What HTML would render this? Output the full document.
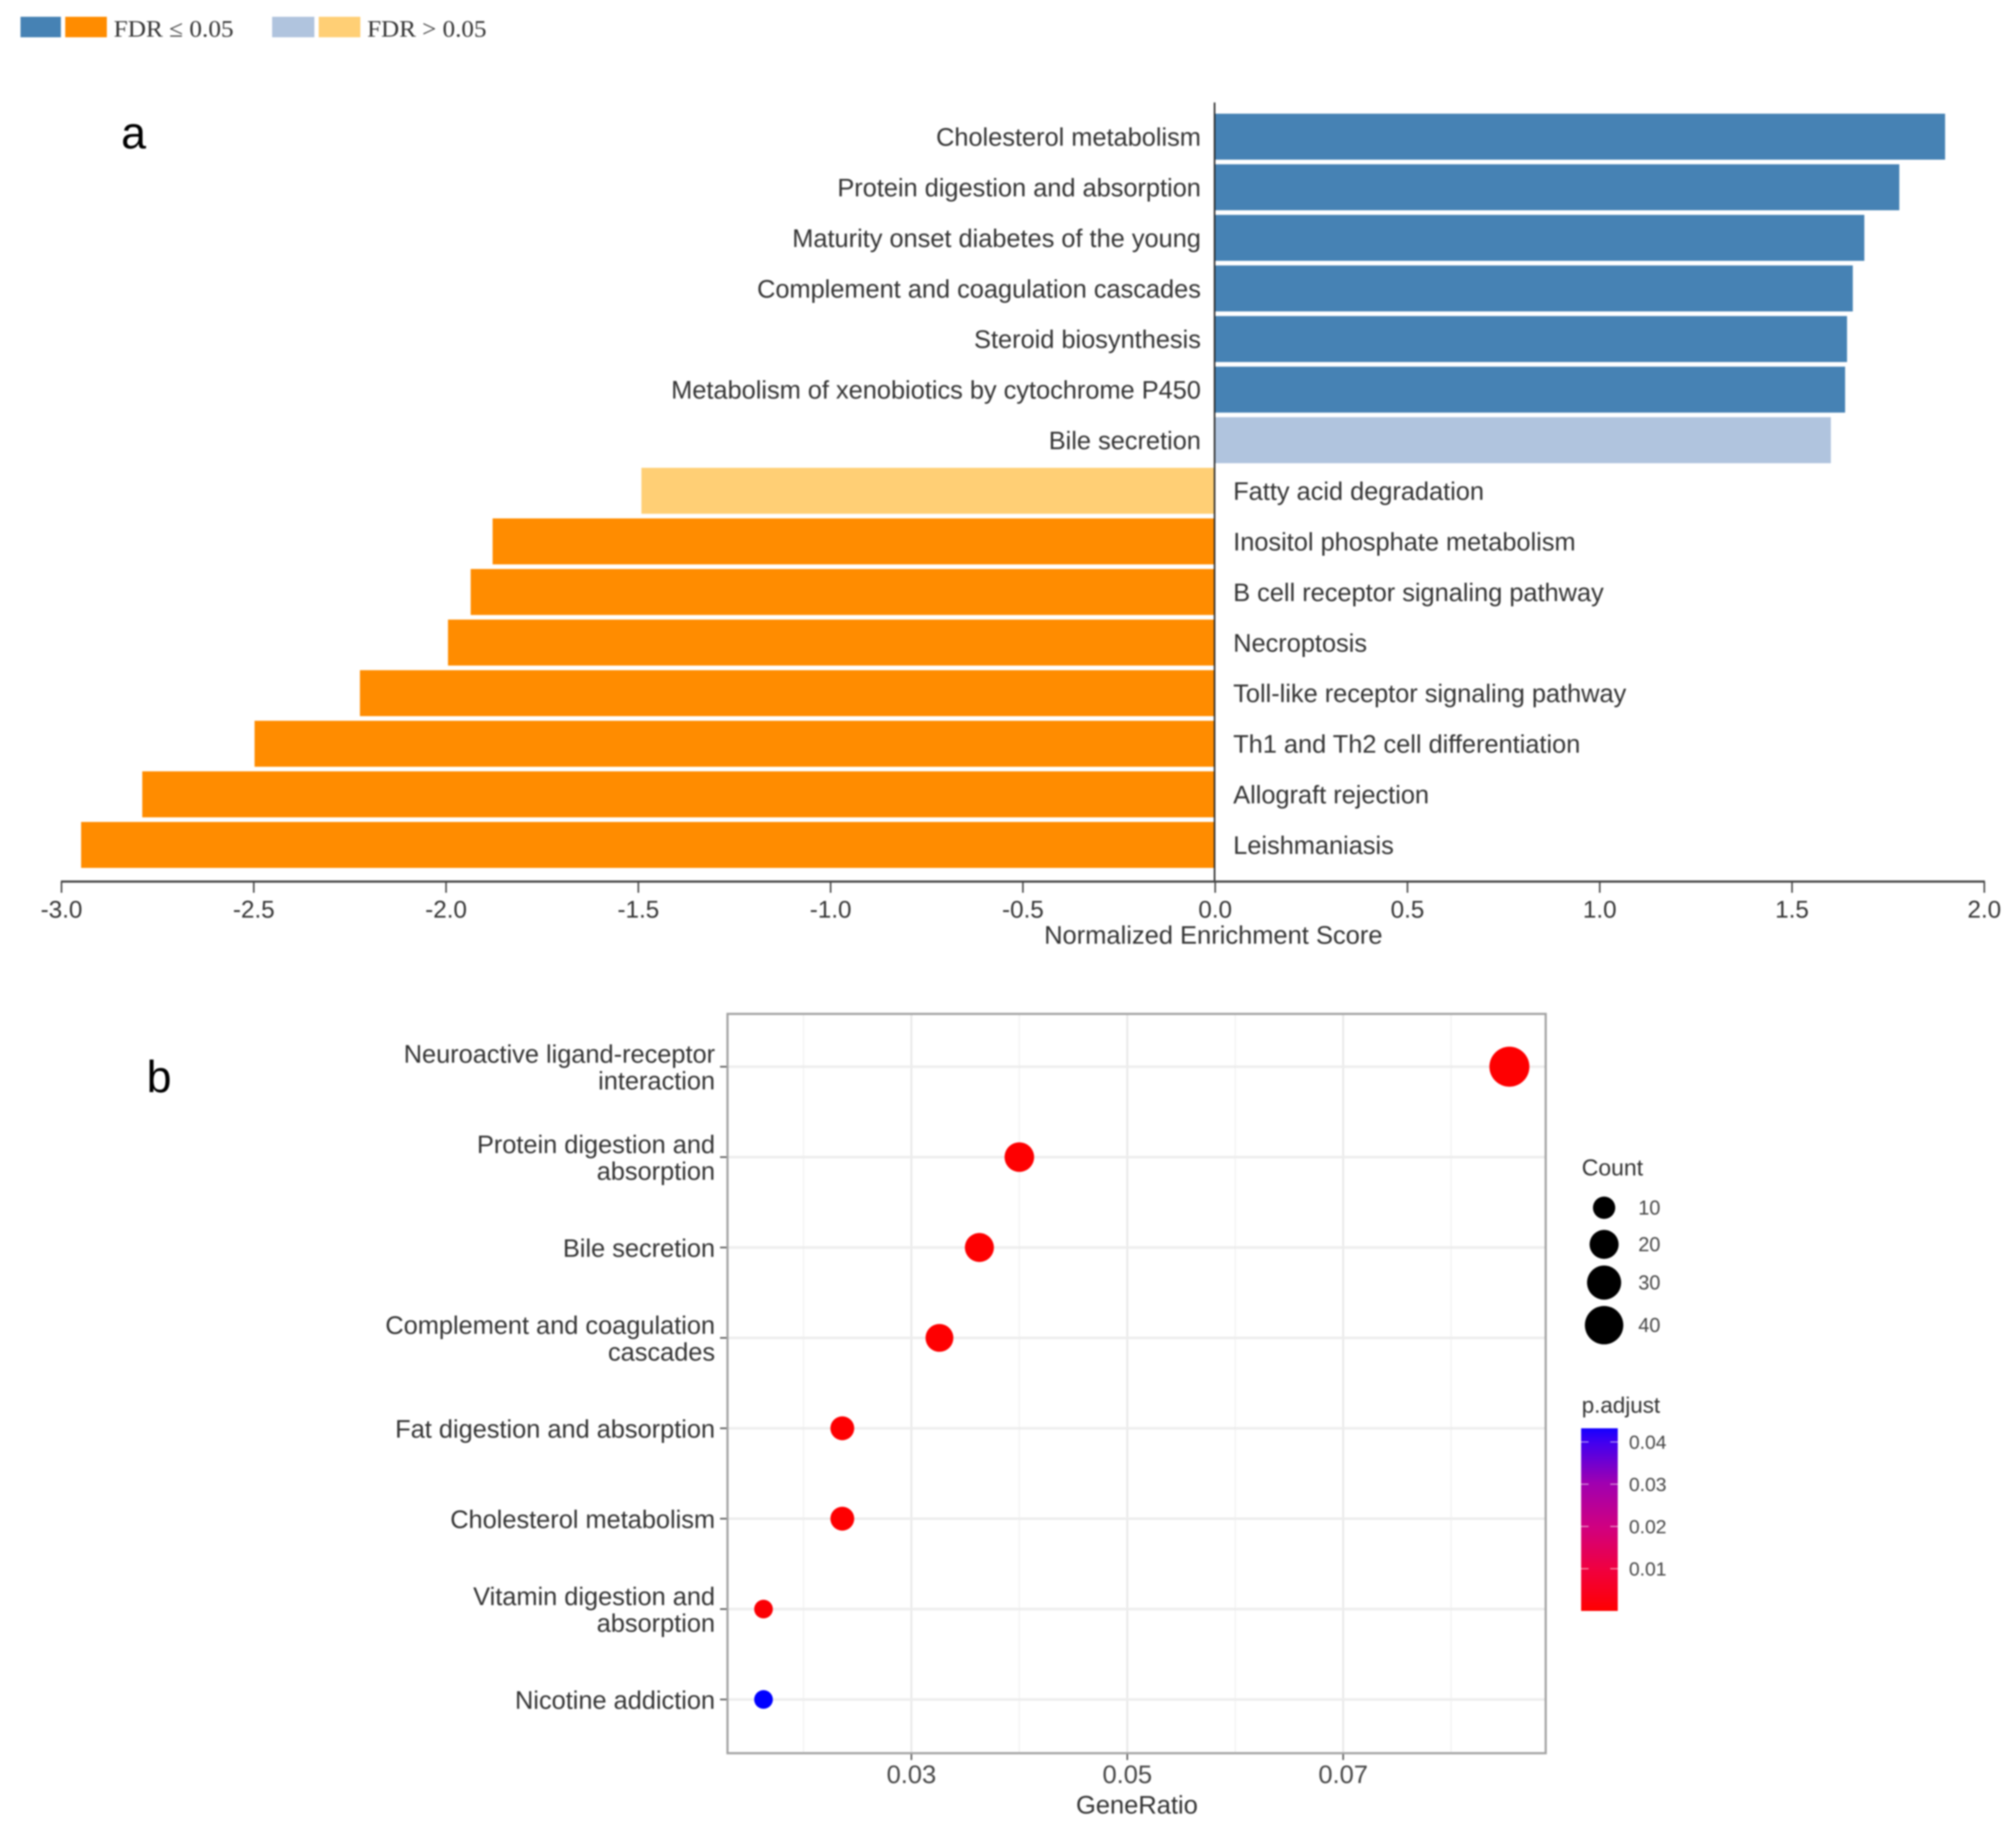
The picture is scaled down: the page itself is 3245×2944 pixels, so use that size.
<!DOCTYPE html>
<html lang="en">
<head>
<meta charset="utf-8">
<title>Enrichment charts</title>
<style>
  html, body { margin: 0; padding: 0; background: #fff; }
  svg { display: block; filter: blur(1.2px); }
  text { font-family: "Liberation Sans", sans-serif; }
</style>
</head>
<body>
<svg id="chart" xmlns="http://www.w3.org/2000/svg" width="3245" height="2944" viewBox="0 0 3245 2944">
  <defs>
    <linearGradient id="padjust-gradient" x1="0" y1="0" x2="0" y2="1">
      <stop offset="0" stop-color="#1500ff"/>
      <stop offset="0.075" stop-color="#4000f0"/>
      <stop offset="0.30" stop-color="#a000b0"/>
      <stop offset="0.54" stop-color="#d00080"/>
      <stop offset="0.77" stop-color="#f00040"/>
      <stop offset="1" stop-color="#ff0000"/>
    </linearGradient>
  </defs>
  <rect x="0" y="0" width="3245" height="2944" fill="#ffffff"/>

  <g>
    <rect x="33" y="27" width="65" height="33" fill="#4682b4"/>
    <rect x="105" y="27" width="67" height="33" fill="#ff8c00"/>
    <text x="183" y="59" font-size="38" fill="#333" textLength="193" lengthAdjust="spacingAndGlyphs" style="font-family:'Liberation Serif',serif">FDR ≤ 0.05</text>
    <rect x="438" y="27" width="68" height="33" fill="#b0c4de"/>
    <rect x="513" y="27" width="67" height="33" fill="#ffcf75"/>
    <text x="591" y="59" font-size="38" fill="#333" textLength="192" lengthAdjust="spacingAndGlyphs" style="font-family:'Liberation Serif',serif">FDR &gt; 0.05</text>
  </g>

  <text x="195" y="239" font-size="72" fill="#000">a</text>
  <text x="236" y="1758" font-size="72" fill="#000">b</text>

  <g id="panel-a"></g>
  <text x="1953" y="1519" font-size="41" text-anchor="middle" fill="#333">Normalized Enrichment Score</text>

  <g id="panel-b"></g>
  <text x="1830" y="2919" font-size="41" text-anchor="middle" fill="#333">GeneRatio</text>

  <g id="size-legend">
    <text x="2546" y="1892" font-size="37" fill="#333">Count</text>
  </g>
  <g id="color-legend">
    <text x="2546" y="2274" font-size="36" fill="#333">p.adjust</text>
    <rect x="2545" y="2299" width="59" height="294" fill="url(#padjust-gradient)"/>
  </g>
</svg>

<script>
// Panel a: normalized enrichment scores
const enrichmentPathways = [
  "Cholesterol metabolism", "Protein digestion and absorption", "Maturity onset diabetes of the young",
  "Complement and coagulation cascades", "Steroid biosynthesis", "Metabolism of xenobiotics by cytochrome P450",
  "Bile secretion", "Fatty acid degradation", "Inositol phosphate metabolism", "B cell receptor signaling pathway",
  "Necroptosis", "Toll-like receptor signaling pathway", "Th1 and Th2 cell differentiation", "Allograft rejection",
  "Leishmaniasis"
];
const enrichmentScores = [1.898, 1.779, 1.688, 1.658, 1.643, 1.638, 1.601, -1.492, -1.879, -1.936, -1.995, -2.224, -2.498, -2.79, -2.949];
const enrichmentSignificant = [true, true, true, true, true, true, false, false, true, true, true, true, true, true, true];
const enrichmentTicks = [-3.0, -2.5, -2.0, -1.5, -1.0, -0.5, 0.0, 0.5, 1.0, 1.5, 2.0];

// Panel b: GeneRatio dot plot
const dotPathways = [
  ["Neuroactive ligand-receptor", "interaction"], ["Protein digestion and", "absorption"], ["Bile secretion"],
  ["Complement and coagulation", "cascades"], ["Fat digestion and absorption"], ["Cholesterol metabolism"],
  ["Vitamin digestion and", "absorption"], ["Nicotine addiction"]
];
const dotGeneRatio = [0.0854, 0.04, 0.0363, 0.0326, 0.0236, 0.0236, 0.0163, 0.0163];
const dotCount = [44, 21, 20, 18, 12, 12, 6, 6];
const dotPAdjust = [0.0002, 0.0002, 0.0002, 0.0002, 0.0002, 0.0002, 0.0006, 0.0432];
const dotMajorTicks = [0.03, 0.05, 0.07];
const dotMinorTicks = [0.02, 0.04, 0.06, 0.08];
const countLegendValues = [10, 20, 30, 40];
const pAdjustLegendValues = [0.04, 0.03, 0.02, 0.01];

const SVG_NS = "http://www.w3.org/2000/svg";
function mk(parent, tag, attrs, content) {
  const node = document.createElementNS(SVG_NS, tag);
  for (const key in attrs) node.setAttribute(key, attrs[key]);
  if (content !== undefined) node.textContent = content;
  parent.appendChild(node);
  return node;
}

// Axis functions
const neX = v => 1956 + 619 * v;
const NE_ROW_TOP = 183, NE_ROW_STEP = 81.43, NE_BAR_H = 74, NE_AXIS_Y = 1419;
const neRowY = i => NE_ROW_TOP + NE_ROW_STEP * i;
const grX = v => 1467 + (v - 0.03) * 17375;
const grY = i => 1717 + 145.5 * i;
const PLOT = { left: 1171, right: 2488, top: 1632, bottom: 2822 };
const radius = c => 5 + 4.1 * Math.sqrt(c);
const pScaleY = p => 2593 - p * 6800;
const pColor = p => {
  const t = Math.min(1, p / 0.0432);
  return "rgb(" + Math.round(255 * (1 - t)) + ",0," + Math.round(255 * t) + ")";
};

// ---- Panel a ----
const panelA = document.getElementById("panel-a");
enrichmentScores.forEach((score, i) => {
  const positive = score >= 0;
  const sig = enrichmentSignificant[i];
  const fill = positive ? (sig ? "#4682b4" : "#b0c4de") : (sig ? "#ff8c00" : "#ffcf75");
  const x0 = Math.min(neX(0), neX(score));
  const w = Math.abs(neX(score) - neX(0));
  const bar = mk(panelA, "rect", { x: x0, y: neRowY(i), width: w, height: NE_BAR_H, fill: fill });
  
  
  const label = mk(panelA, "text", {
    x: positive ? 1933 : 1985,
    y: neRowY(i) + NE_BAR_H / 2 + 14.5,
    "font-size": 40.8,
    "text-anchor": positive ? "end" : "start",
    fill: "#333"
  }, enrichmentPathways[i]);
  
  
});
const zeroLine = mk(panelA, "line", { x1: neX(0) - 1, x2: neX(0) - 1, y1: 165, y2: NE_AXIS_Y, stroke: "#222", "stroke-width": 2.5 });


const neAxis = mk(panelA, "line", { x1: neX(-3) - 1, x2: neX(2) + 1, y1: NE_AXIS_Y, y2: NE_AXIS_Y, stroke: "#444", "stroke-width": 3.5 });


enrichmentTicks.forEach(v => {
  const tick = mk(panelA, "line", { x1: neX(v), x2: neX(v), y1: NE_AXIS_Y, y2: NE_AXIS_Y + 18, stroke: "#444", "stroke-width": 2.5 });
  
  
  const tl = mk(panelA, "text", { x: neX(v), y: 1477, "font-size": 39, "text-anchor": "middle", fill: "#333" }, v.toFixed(1));
  
  
});

// ---- Panel b ----
const panelB = document.getElementById("panel-b");
dotMinorTicks.forEach(v => {
  const g = mk(panelB, "line", { x1: grX(v), x2: grX(v), y1: PLOT.top, y2: PLOT.bottom, stroke: "#f2f2f2", "stroke-width": 2 });
  
  
});
dotMajorTicks.forEach(v => {
  const g = mk(panelB, "line", { x1: grX(v), x2: grX(v), y1: PLOT.top, y2: PLOT.bottom, stroke: "#e8e8e8", "stroke-width": 3 });
  
  
  const tick = mk(panelB, "line", { x1: grX(v), x2: grX(v), y1: PLOT.bottom, y2: PLOT.bottom + 11, stroke: "#555", "stroke-width": 2.5 });
  
  
  const tl = mk(panelB, "text", { x: grX(v), y: 2870, "font-size": 41, "text-anchor": "middle", fill: "#444" }, v.toFixed(2));
  
  
});
dotPathways.forEach((lines, i) => {
  const y = grY(i);
  const grid = mk(panelB, "line", { x1: PLOT.left, x2: PLOT.right, y1: y, y2: y, stroke: "#ededed", "stroke-width": 4 });
  
  
  const tick = mk(panelB, "line", { x1: 1159, x2: PLOT.left, y1: y, y2: y, stroke: "#555", "stroke-width": 2.5 });
  
  
  lines.forEach((line, j) => {
    const offset = lines.length === 2 ? (j === 0 ? -21.5 : 21.5) : 0;
    const t = mk(panelB, "text", { x: 1151, y: y + offset + 15, "font-size": 40.8, "text-anchor": "end", fill: "#333" }, line);
    
    
  });
});
const frame = mk(panelB, "rect", { x: PLOT.left, y: PLOT.top, width: PLOT.right - PLOT.left, height: PLOT.bottom - PLOT.top, fill: "none", stroke: "#a3a3a3", "stroke-width": 3.5 });


dotGeneRatio.forEach((ratio, i) => {
  const dot = mk(panelB, "circle", { cx: grX(ratio), cy: grY(i), r: radius(dotCount[i]), fill: pColor(dotPAdjust[i]) });
  
  
});

// ---- Size legend ----
const sizeLegend = document.getElementById("size-legend");
const legendRows = [1944, 2003, 2064.5, 2133];
countLegendValues.forEach((c, i) => {
  const dot = mk(sizeLegend, "circle", { cx: 2582, cy: legendRows[i], r: radius(c), fill: "#000" });
  
  
  const t = mk(sizeLegend, "text", { x: 2637, y: legendRows[i] + 11, "font-size": 32, fill: "#444" }, String(c));
  
  
});

// ---- Colour legend ----
const colorLegend = document.getElementById("color-legend");
pAdjustLegendValues.forEach(p => {
  const y = pScaleY(p);
  const tl = mk(colorLegend, "line", { x1: 2545, x2: 2557, y1: y, y2: y, stroke: "#ffffff", "stroke-width": 1.5, opacity: 0.7 });
  
  
  const tr = mk(colorLegend, "line", { x1: 2592, x2: 2604, y1: y, y2: y, stroke: "#ffffff", "stroke-width": 1.5, opacity: 0.7 });
  
  
  const t = mk(colorLegend, "text", { x: 2622, y: y + 11, "font-size": 31, fill: "#444" }, p.toFixed(2));
  
  
});
</script>
</body>
</html>
